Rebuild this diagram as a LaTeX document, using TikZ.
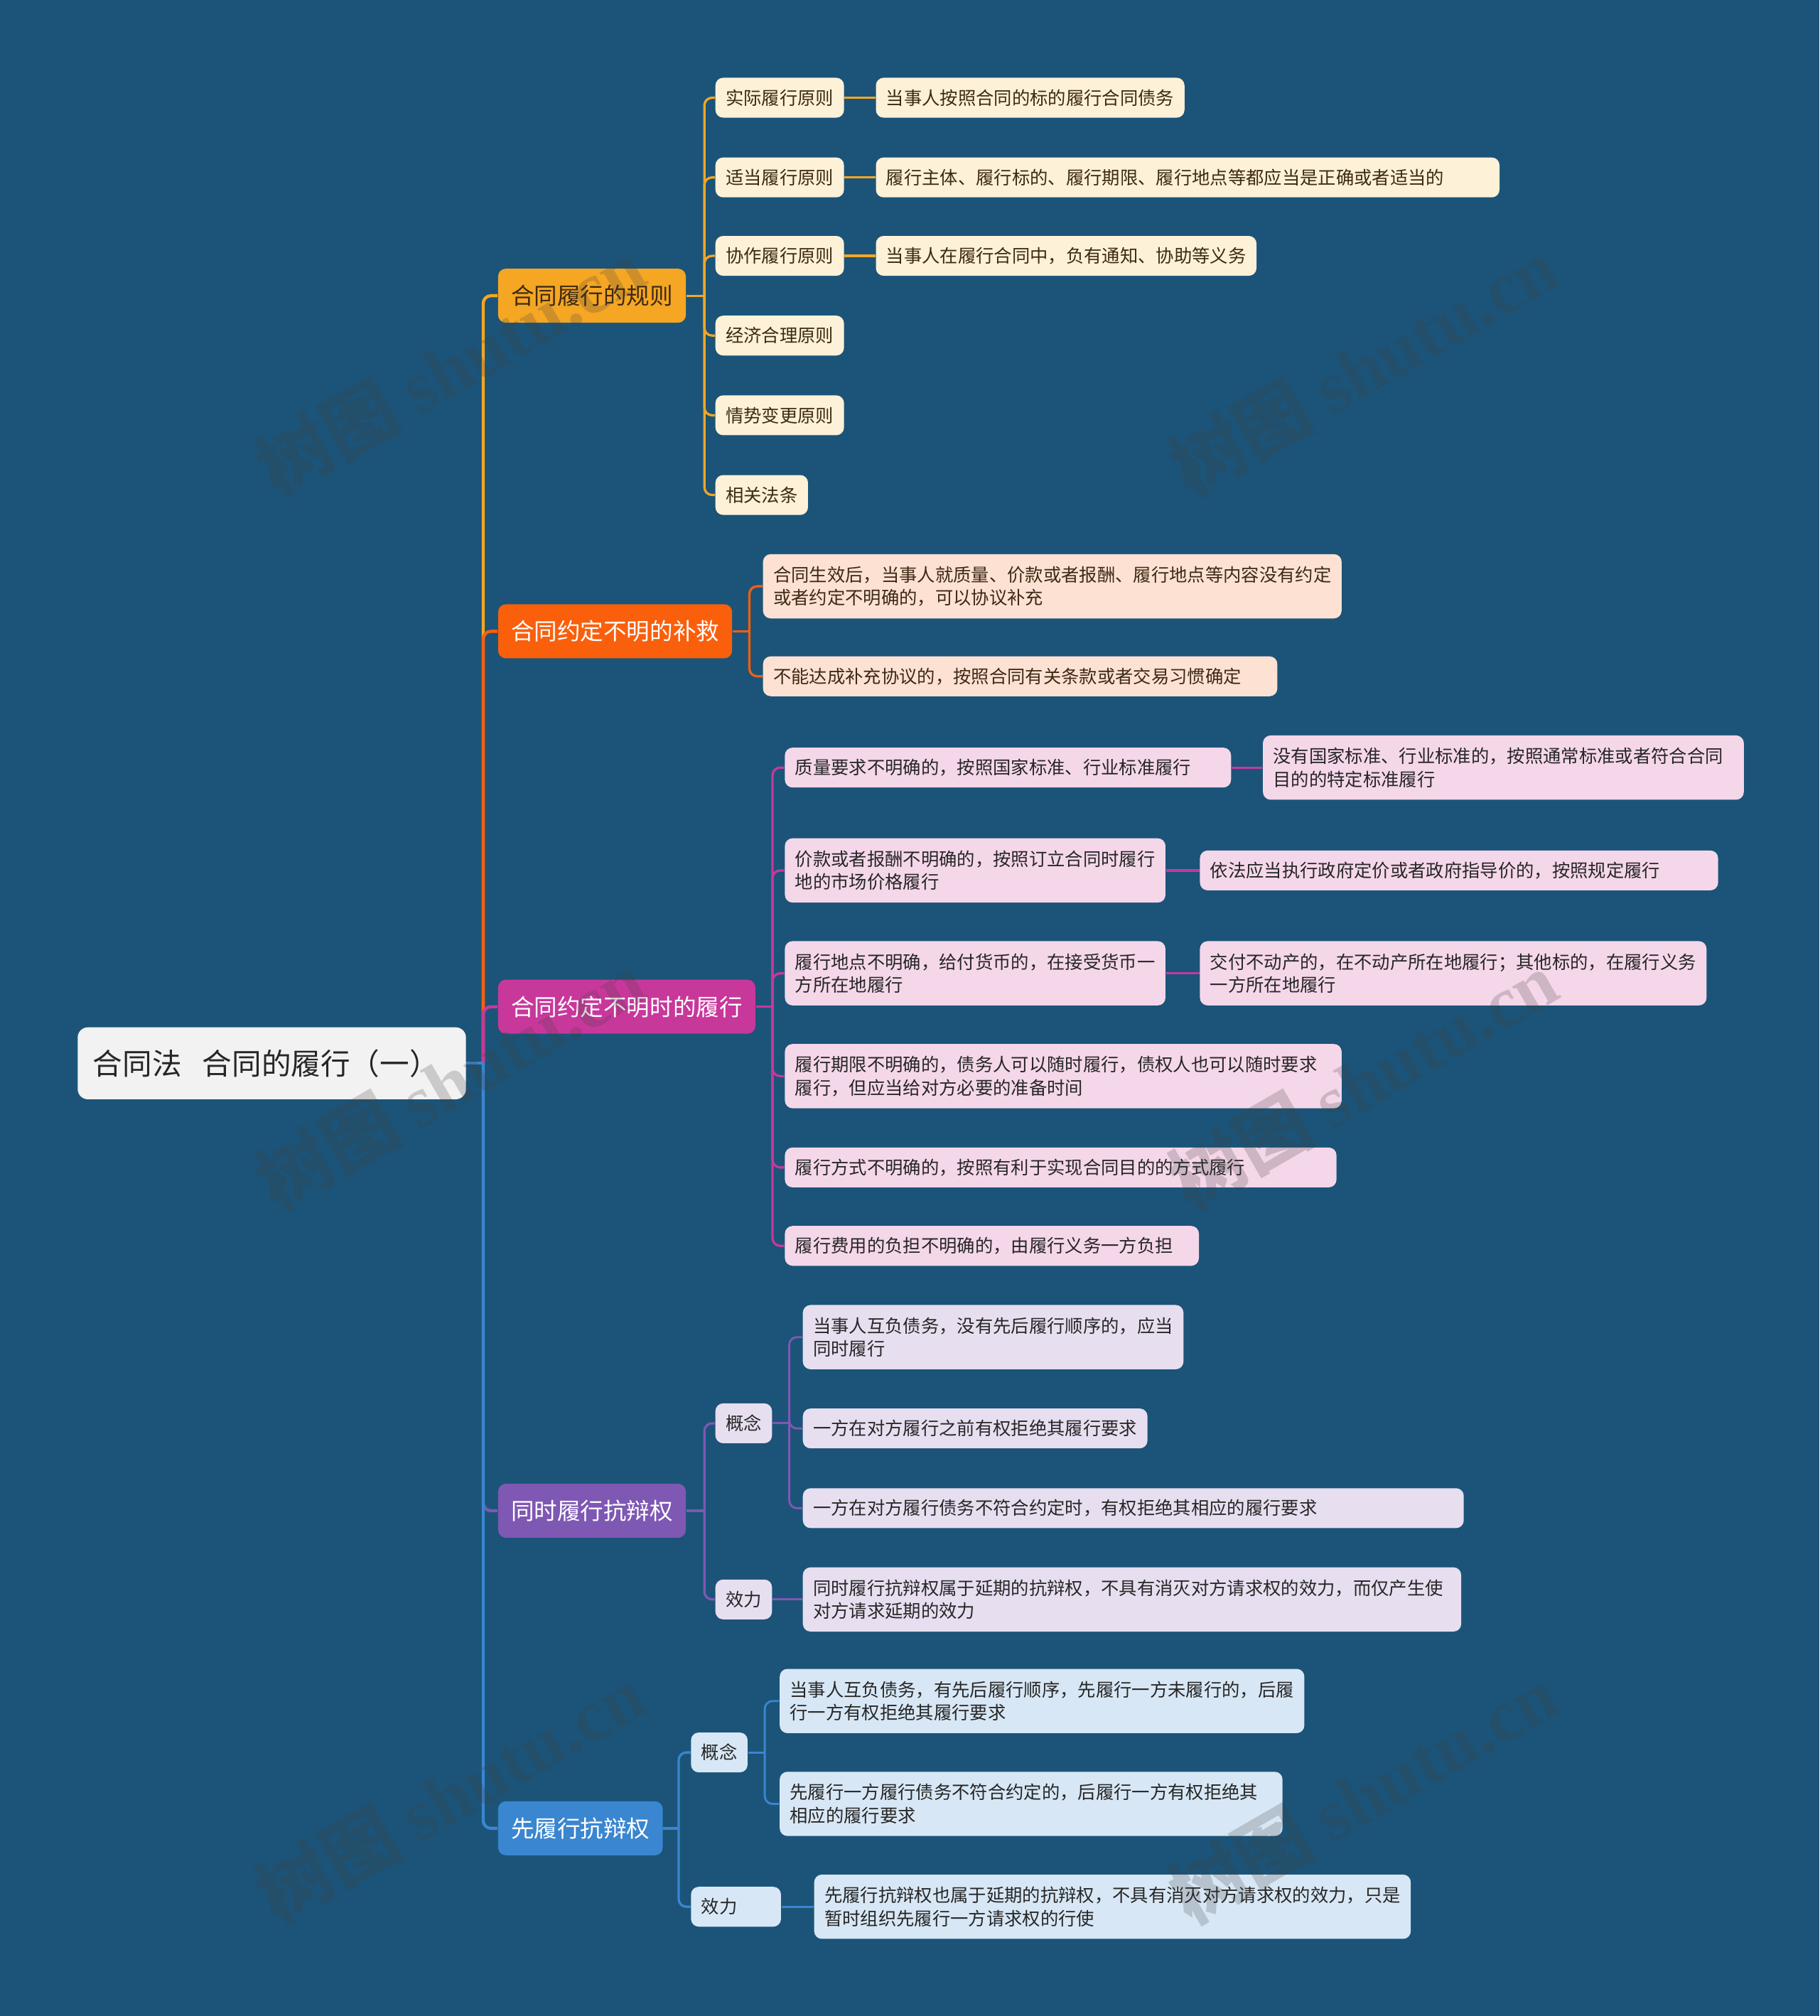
\documentclass[tikz,border=0pt]{standalone}
\usepackage{fontspec}
\setmainfont{Noto Sans CJK SC}
\newfontfamily\wmfont{Liberation Serif}
\usetikzlibrary{positioning,calc}

\definecolor{bg}{HTML}{1B5478}
\definecolor{rootc}{HTML}{F2F2F2}
\definecolor{yel}{HTML}{F5A623}
\definecolor{yell}{HTML}{FDF1D8}
\definecolor{org}{HTML}{FA5F0C}
\definecolor{orgl}{HTML}{FDE2D4}
\definecolor{mag}{HTML}{C8389B}
\definecolor{magl}{HTML}{F5D7EA}
\definecolor{pur}{HTML}{7E58B3}
\definecolor{purl}{HTML}{E7DFF0}
\definecolor{blu}{HTML}{3A86D0}
\definecolor{blul}{HTML}{D8E7F5}
\definecolor{brown}{HTML}{3D2A12}
\definecolor{ink}{HTML}{262626}

% parent -> junction -> children
\newcommand{\fork}[4]{%
  \draw[#1] (#2.east) -- ++(#3,0) coordinate (fk);
  \foreach \c in {#4}{\draw[#1,rounded corners=3pt] (fk) |- (\c.west);}
}

\begin{document}
\begin{tikzpicture}[x=0.5pt,y=-0.5pt,
		font=\fontsize{7}{9}\selectfont,
		box/.style={rounded corners=3pt,inner xsep=4pt,inner ysep=3pt,minimum height=15.5pt,align=left,anchor=west,text=ink},
		two/.style={minimum height=25pt},
		wd/.style={text width=#1},
		main/.style={box,font=\fontsize{9}{11}\selectfont,minimum height=21pt,inner xsep=5pt,text=white},
		ys/.style={box,fill=yell,text=brown},
		os/.style={box,fill=orgl,text=brown},
		ms/.style={box,fill=magl},
		ps/.style={box,fill=purl},
		bs/.style={box,fill=blul},
		yl/.style={draw=yel,line width=0.9pt},
		ol/.style={draw=org,line width=0.9pt},
		ml/.style={draw=mag,line width=0.9pt},
		pl/.style={draw=pur,line width=0.9pt},
		bl/.style={draw=blu,line width=0.9pt},
		wm/.style={rotate=30,text=black!75,opacity=0.22,font=\fontsize{28.5}{28.5}\selectfont\bfseries}
		]

		\fill[bg] (0,0) rectangle (1415,1568);
		\useasboundingbox (0,0) rectangle (1415,1568);

		\node[box,fill=rootc,text=ink,rounded corners=4pt,font=\fontsize{11.5}{13}\selectfont,
			text width=139pt,inner xsep=6pt,minimum height=28pt] (root) at (60,827) {合同法\hspace{0.7em}合同的履行（一）};

		% level 1
		\node[main,fill=yel,text=brown] (rule) at (387,230) {合同履行的规则};
		\node[main,fill=org] (rem) at (387,491) {合同约定不明的补救};
		\node[main,fill=mag] (perf) at (387,783) {合同约定不明时的履行};
		\node[main,fill=pur] (sim) at (387,1175) {同时履行抗辩权};
		\node[main,fill=blu] (prior) at (387,1422) {先履行抗辩权};

		% rules
		\node[ys] (rule1) at (556,76) {实际履行原则};
		\node[ys] (rule2) at (556,138) {适当履行原则};
		\node[ys] (rule3) at (556,199) {协作履行原则};
		\node[ys] (rule4) at (556,261) {经济合理原则};
		\node[ys] (rule5) at (556,323) {情势变更原则};
		\node[ys] (rule6) at (556,385) {相关法条};
		\node[ys,right=12pt of rule1] (rule1a) {当事人按照合同的标的履行合同债务};
		\node[ys,wd=234.5pt,right=12pt of rule2] (rule2a) {履行主体、履行标的、履行期限、履行地点等都应当是正确或者适当的};
		\node[ys,right=12pt of rule3] (rule3a) {当事人在履行合同中，负有通知、协助等义务};

		% remedy
		\node[os,two] (rem1) at (593,456) {合同生效后，当事人就质量、价款或者报酬、履行地点等内容没有约定\\或者约定不明确的，可以协议补充};
		\node[os,wd=192pt] (rem2) at (593,526) {不能达成补充协议的，按照合同有关条款或者交易习惯确定};

		% performance
		\node[ms,wd=165.5pt] (perf1) at (610,597) {质量要求不明确的，按照国家标准、行业标准履行};
		\node[ms,two] (perf2) at (610,677) {价款或者报酬不明确的，按照订立合同时履行\\地的市场价格履行};
		\node[ms,two] (perf3) at (610,757) {履行地点不明确，给付货币的，在接受货币一\\方所在地履行};
		\node[ms,two,wd=208.5pt] (perf4) at (610,837) {履行期限不明确的，债务人可以随时履行，债权人也可以随时要求\\履行，但应当给对方必要的准备时间};
		\node[ms,wd=206.5pt] (perf5) at (610,908) {履行方式不明确的，按照有利于实现合同目的的方式履行};
		\node[ms,wd=153pt] (perf6) at (610,969) {履行费用的负担不明确的，由履行义务一方负担};
		\node[ms,two,wd=179pt,right=12pt of perf1] (perf1a) {没有国家标准、行业标准的，按照通常标准或者符合合同\\目的的特定标准履行};
		\node[ms,wd=193.5pt,right=13pt of perf2] (perf2a) {依法应当执行政府定价或者政府指导价的，按照规定履行};
		\node[ms,two,right=13pt of perf3] (perf3a) {交付不动产的，在不动产所在地履行；其他标的，在履行义务\\一方所在地履行};

		% simultaneous
		\node[ps] (simc) at (556,1107) {概念};
		\node[ps] (sime) at (556,1244) {效力};
		\node[ps,two] (simc1) at (624,1040) {当事人互负债务，没有先后履行顺序的，应当\\同时履行};
		\node[ps] (simc2) at (624,1111) {一方在对方履行之前有权拒绝其履行要求};
		\node[ps,wd=249pt] (simc3) at (624,1173) {一方在对方履行债务不符合约定时，有权拒绝其相应的履行要求};
		\node[ps,two,wd=248pt] (sime1) at (624,1244) {同时履行抗辩权属于延期的抗辩权，不具有消灭对方请求权的效力，而仅产生使\\对方请求延期的效力};

		% prior
		\node[bs] (prc) at (537,1363) {概念};
		\node[bs,wd=27pt] (pre) at (537,1483) {效力};
		\node[bs,two] (prc1) at (606,1323) {当事人互负债务，有先后履行顺序，先履行一方未履行的，后履\\行一方有权拒绝其履行要求};
		\node[bs,two,wd=187.5pt] (prc2) at (606,1403) {先履行一方履行债务不符合约定的，后履行一方有权拒绝其\\相应的履行要求};
		\node[bs,two,right=12.5pt of pre] (pre1) {先履行抗辩权也属于延期的抗辩权，不具有消灭对方请求权的效力，只是\\暂时组织先履行一方请求权的行使};

		% connectors
		\fork{yl,line width=1.2pt}{root}{13}{rule}
		\fork{ol,line width=1.2pt}{root}{13}{rem}
		\fork{ml,line width=1.2pt}{root}{13}{perf}
		\fork{pl,line width=1.2pt}{root}{13}{sim}
		\fork{bl,line width=1.2pt}{root}{13}{prior}

		\fork{yl}{rule}{14}{rule1,rule2,rule3,rule4,rule5,rule6}
		\foreach \i in {1,2,3} \draw[yl] (rule\i) -- (rule\i a);
		\fork{ol}{rem}{13}{rem1,rem2}
		\fork{ml}{perf}{13}{perf1,perf2,perf3,perf4,perf5,perf6}
		\foreach \i in {1,2,3} \draw[ml] (perf\i) -- (perf\i a);
		\fork{pl}{sim}{14}{simc,sime}
		\fork{pl,line width=0.8pt}{simc}{13}{simc1,simc2,simc3}
		\draw[pl,line width=0.8pt] (sime) -- (sime1);
		\fork{bl}{prior}{12}{prc,pre}
		\fork{bl,line width=0.8pt}{prc}{13}{prc1,prc2}
		\draw[bl,line width=0.8pt] (pre) -- (pre1);

		% watermarks
		\foreach \wx/\wy [count=\k] in {350/285,1060/285,350/840,1060/840,350/1395,1060/1395}
			\node[wm] (wm\k) at (\wx,\wy) {树图 {\wmfont shutu.cn}};

	\end{tikzpicture}
\end{document}
